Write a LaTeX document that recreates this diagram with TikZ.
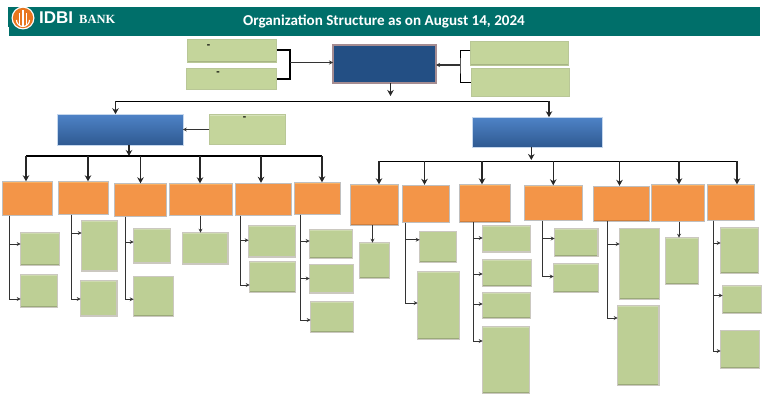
\documentclass[tikz,border=0pt]{standalone}
\usepackage{fontspec}
\setmainfont{Carlito}
\newfontfamily\logofont{Liberation Sans}
\newfontfamily\bankfont{Liberation Serif}
\usetikzlibrary{arrows.meta}
\definecolor{headteal}{HTML}{006F6A}
\definecolor{logoorange}{HTML}{E8761E}
\definecolor{ceoblue}{HTML}{234F84}
\definecolor{ceoedge}{HTML}{A58C91}
\definecolor{leafcol}{HTML}{BDCF95}
\definecolor{leafedge}{HTML}{CBC8C0}
\definecolor{uppercol}{HTML}{C4D59B}
\definecolor{upperedge}{HTML}{B9C797}
\definecolor{deptcol}{HTML}{F39548}
\definecolor{depttop}{HTML}{FAB062}
\definecolor{headcol}{HTML}{3F78C2}
\tikzset{
    edges/.style 2 args={path picture={
        \fill[#1] (path picture bounding box.north west) rectangle ([yshift=-1.2pt]path picture bounding box.north east);
        \fill[#2] (path picture bounding box.south west) rectangle ([yshift=1.2pt]path picture bounding box.south east);}},
    leaf/.style 2 args={draw=leafedge, line width=1.4pt, fill=leafcol, edges={leafcol!75!white}{leafcol!82!black}, minimum width={#1-1.4}, minimum height={#2-1.4}, inner sep=0pt, outer sep=0pt},
    upper/.style 2 args={draw=upperedge, line width=.6pt, fill=uppercol, edges={uppercol!70!white}{uppercol!85!black}, minimum width={#1-.6}, minimum height={#2-.6}, inner sep=0pt, outer sep=0pt},
    dept/.style 2 args={draw=black!25!white, line width=.6pt, fill=deptcol, edges={depttop}{deptcol!85!black}, minimum width={#1-.6}, minimum height={#2-.6}, inner sep=0pt, outer sep=0pt},
    head/.style 2 args={draw=white!70!headcol, line width=.4pt, top color=headcol!92!white, bottom color=headcol!75!black, minimum width={#1-.4}, minimum height={#2-.4}, inner sep=0pt, outer sep=0pt},
    dashmark/.style={font=\bfseries\fontsize{11}{11}\selectfont, inner sep=0pt},
    drop/.style={-{Stealth[length=6pt,width=6.5pt]}, line width=1.2pt, black!85!white},
    branch/.style={-{Stealth[length=4pt,width=4pt]}, line width=1pt, black!80!white},
    bus/.style={line width=1.2pt, black}
}
\begin{document}
\begin{tikzpicture}[x=1pt,y=-1pt]
    \useasboundingbox (0,0) rectangle (768,404);
    % Header band with logo and title
    \fill[headteal] (9,7) rectangle (760,36);
    \fill[headteal] (8,7) rectangle (9,27);
    \fill[white] (23,18) circle (11.5);
    \fill[logoorange] (23,18) circle (10.2);
    \draw[white, line width=1.1pt] (16.5,20) arc (180:0:6.5);
    \draw[white, line width=1.1pt] (23,10) -- (23,26);
    \draw[white, line width=1.1pt] (19.5,13) -- (19.5,25);
    \draw[white, line width=1.1pt] (26.5,13) -- (26.5,25);
    \node[text=white, font=\logofont\bfseries\fontsize{17}{17}\selectfont, anchor=west, inner sep=0pt] (logoname) at (39,18) {IDBI};
    \node[text=white, font=\bankfont\bfseries\fontsize{12.5}{13}\selectfont, anchor=west, inner sep=0pt] (bankname) at (79,19) {BANK};
    \node[text=white, font=\bfseries\fontsize{15.1}{16}\selectfont, inner sep=0pt] (title) at (384,21) {Organization Structure as on August 14, 2024};

    % Top of the chart
    \node[draw=ceoedge, line width=2pt, fill=ceoblue, minimum width=103, minimum height=38, inner sep=0pt, outer sep=0pt] (ceo) at (384.5,64) {};
    \node[upper={90}{24}] (advisorA) at (232,51) {};
    \node[upper={91}{22}] (advisorB) at (231.5,79) {};
    \node[upper={99}{25}] (boardA) at (519.5,53.5) {};
    \node[upper={99}{29}] (boardB) at (520.5,82.5) {};
    \node[dashmark] (dashA) at (208.5,46.5) {-};
    \node[dashmark] (dashB) at (218,73.5) {-};

    % Two verticals
    \node[head={126}{31}] (verticalA) at (120,129.5) {};
    \node[head={130}{30}] (verticalB) at (537,132) {};
    \node[upper={77}{31}] (staffA) at (247.5,129.5) {};
    \node[dashmark] (dashC) at (244.5,118.5) {-};

    % Departments
    \node[dept={51.5}{35}] (o1) at (27.25,198.5) {};
    \node[dept={51}{34}] (o2) at (83.5,198) {};
    \node[dept={53}{34}] (o3) at (140.5,200) {};
    \node[dept={64}{33}] (o4) at (201,199.5) {};
    \node[dept={57}{33.5}] (o5) at (263.5,199.25) {};
    \node[dept={47}{33}] (o6) at (317.5,198.5) {};
    \node[dept={49}{41.5}] (o7) at (374.5,204.75) {};
    \node[dept={47.5}{38.5}] (o8) at (425.75,203.75) {};
    \node[dept={52}{38.5}] (o9) at (485,203.25) {};
    \node[dept={59.5}{36}] (o10) at (553.25,203) {};
    \node[dept={57}{36}] (o11) at (621,203.5) {};
    \node[dept={54}{38}] (o12) at (678,203) {};
    \node[dept={48}{37}] (o13) at (731,202.5) {};

    % Units under the departments
    \node[leaf={40}{34}] (c1) at (40,249) {};
    \node[leaf={38}{34}] (c2) at (39,291) {};
    \node[leaf={37}{51.5}] (c3) at (99.5,245.75) {};
    \node[leaf={37.5}{36.5}] (c4) at (98.75,298.25) {};
    \node[leaf={38}{35.5}] (c5) at (152,245.75) {};
    \node[leaf={41}{41.5}] (c6) at (153.5,296.25) {};
    \node[leaf={46.5}{32.5}] (c7) at (205.25,248.25) {};
    \node[leaf={48}{32.5}] (c8) at (272,241.25) {};
    \node[leaf={47}{32}] (c9) at (272.5,277) {};
    \node[leaf={44}{30}] (c10) at (331,244) {};
    \node[leaf={45}{30}] (c11) at (331.5,278.5) {};
    \node[leaf={44}{32}] (c12) at (332,317) {};
    \node[leaf={31}{37}] (c13) at (374.5,260.5) {};
    \node[leaf={38}{32.5}] (c14) at (438,246.75) {};
    \node[leaf={43}{69}] (c15) at (438.5,305.5) {};
    \node[leaf={49}{27.5}] (c16) at (506.5,238.75) {};
    \node[leaf={50}{28}] (c17) at (507,273) {};
    \node[leaf={49}{27}] (c18) at (506.5,305.5) {};
    \node[leaf={48}{68}] (c19) at (506,360) {};
    \node[leaf={44.5}{29}] (c20) at (576.25,242.5) {};
    \node[leaf={46}{30}] (c21) at (576,278) {};
    \node[leaf={41}{72.5}] (c22) at (639.5,263.75) {};
    \node[leaf={42.5}{81}] (c23) at (638.25,345.5) {};
    \node[leaf={34}{48}] (c24) at (682,261) {};
    \node[leaf={39}{47}] (c25) at (739.5,250.5) {};
    \node[leaf={40}{29}] (c26) at (742,299.5) {};
    \node[leaf={40}{39.5}] (c27) at (740,349.25) {};

    % Connectors around the top box
    \coordinate (leftjoin) at (290,62.5);
    \coordinate (rightjoin) at (460,65);
    \draw[line width=1.1pt] ([yshift=1pt]advisorA.east) -| (leftjoin) |- (advisorB.east);
    \draw[branch, line width=1.3pt] (leftjoin) -- (leftjoin -| ceo.west);
    \draw[line width=1pt] ([yshift=2.5pt]boardA.west) -| (rightjoin) |- (boardB.west);
    \draw[branch, line width=1.3pt] (rightjoin) -- (rightjoin -| ceo.east);

    % Bus from the top box to the verticals
    \coordinate (ceodrop) at (390.5,96);
    \coordinate (splitleft) at (115.5,101);
    \coordinate (splitright) at (549,101);
    \draw[drop] (ceo.south -| ceodrop) -- (ceodrop);
    \draw[line width=1pt] (splitleft) -- (splitright);
    \draw[drop] (splitleft) -- (splitleft |- verticalA.north);
    \draw[drop] (splitright) -- (splitright |- verticalB.north);
    \draw[branch, line width=1.3pt] (staffA.west) -- (verticalA.east);

    % Left bus
    \coordinate (busA) at (129,156);
    \coordinate (busAleft) at (26,156);
    \coordinate (busAright) at (322,156);
    \draw[drop] (verticalA.south -| busA) -- (busA);
    \draw[bus] (busAleft) -- (busAright);
    \draw[drop] (busAleft) -- (busAleft |- o1.north);
    \draw[drop] ([xshift=4.5pt]o2.north |- busAleft) -- ([xshift=4.5pt]o2.north);
    \draw[drop] (o3.north |- busAleft) -- (o3.north);
    \draw[drop] ([xshift=-1pt]o4.north |- busAleft) -- ([xshift=-1pt]o4.north);
    \draw[drop] ([xshift=-2.5pt]o5.north |- busAleft) -- ([xshift=-2.5pt]o5.north);
    \draw[drop] (busAright) -- (busAright |- o6.north);

    % Right bus
    \coordinate (busB) at (531.3,160);
    \coordinate (busBleft) at (379,161);
    \coordinate (busBright) at (737,161);
    \draw[drop] (verticalB.south -| busB) -- (busB);
    \draw[line width=1pt] (busBleft) -- (busBright);
    \draw[drop] (busBleft) -- (busBleft |- o7.north);
    \draw[drop] ([xshift=-1.25pt]o8.north |- busBleft) -- ([xshift=-1.25pt]o8.north);
    \draw[drop] ([xshift=-3pt]o9.north |- busBleft) -- ([xshift=-3pt]o9.north);
    \draw[drop] (o10.north |- busBleft) -- (o10.north);
    \draw[drop] ([xshift=-1.5pt]o11.north |- busBleft) -- ([xshift=-1.5pt]o11.north);
    \draw[drop] ([xshift=1pt]o12.north |- busBleft) -- ([xshift=1pt]o12.north);
    \draw[drop] (busBright) -- (busBright |- o13.north);

    % Branches from departments to units
    \coordinate (s1) at ([xshift=8pt]o1.south west);
    \draw[branch] (s1) |- ([yshift=5pt]c1.west);
    \draw[branch] (s1) |- ([yshift=-8pt]c2.west);
    \coordinate (s2) at ([xshift=13.5pt]o2.south west);
    \draw[branch] (s2) |- ([yshift=12.75pt]c3.west);
    \draw[branch] (s2) |- ([yshift=-.75pt]c4.west);
    \coordinate (s3) at ([xshift=11pt]o3.south west);
    \draw[branch] (s3) |- ([yshift=3.75pt]c5.west);
    \draw[branch] (s3) |- ([yshift=-3pt]c6.west);
    \draw[branch] ([xshift=-4.75pt]c7.north |- o4.south) -- ([xshift=-4.75pt]c7.north);
    \coordinate (s5) at ([xshift=5pt]o5.south west);
    \draw[branch] (s5) |- ([yshift=1pt]c8.west);
    \draw[branch] (s5) |- ([yshift=-8pt]c9.west);
    \coordinate (s6) at ([xshift=6pt]o6.south west);
    \draw[branch] (s6) |- ([yshift=3pt]c10.west);
    \draw[branch] (s6) |- (c11.west);
    \draw[branch] (s6) |- ([yshift=-3pt]c12.west);
    \draw[branch] ([xshift=-2pt]c13.north |- o7.south) -- ([xshift=-2pt]c13.north);
    \coordinate (s8) at ([xshift=3.5pt]o8.south west);
    \draw[branch] (s8) |- ([yshift=7pt]c14.west);
    \draw[branch] (s8) |- ([yshift=2.5pt]c15.west);
    \coordinate (s9) at ([xshift=14pt]o9.south west);
    \draw[branch] (s9) |- ([yshift=.75pt]c16.west);
    \draw[branch] (s9) |- ([yshift=-1pt]c17.west);
    \draw[branch] (s9) |- ([yshift=1.5pt]c18.west);
    \draw[branch] (s9) |- ([yshift=19pt]c19.west);
    \coordinate (s10) at ([xshift=18.5pt]o10.south west);
    \draw[branch] (s10) |- ([yshift=4pt]c20.west);
    \draw[branch] (s10) |- ([yshift=1.5pt]c21.west);
    \coordinate (s11) at ([xshift=14.5pt]o11.south west);
    \draw[branch] (s11) |- ([yshift=19.75pt]c22.west);
    \draw[branch] (s11) |- ([yshift=27.5pt]c23.west);
    \draw[branch] ([xshift=-3pt]c24.north |- o12.south) -- ([xshift=-3pt]c24.north);
    \coordinate (s13) at ([xshift=6pt]o13.south west);
    \draw[branch] (s13) |- ([yshift=7.5pt]c25.west);
    \draw[branch] (s13) |- ([yshift=4pt]c26.west);
    \draw[branch] (s13) |- ([yshift=-1.75pt]c27.west);
\end{tikzpicture}
\end{document}
